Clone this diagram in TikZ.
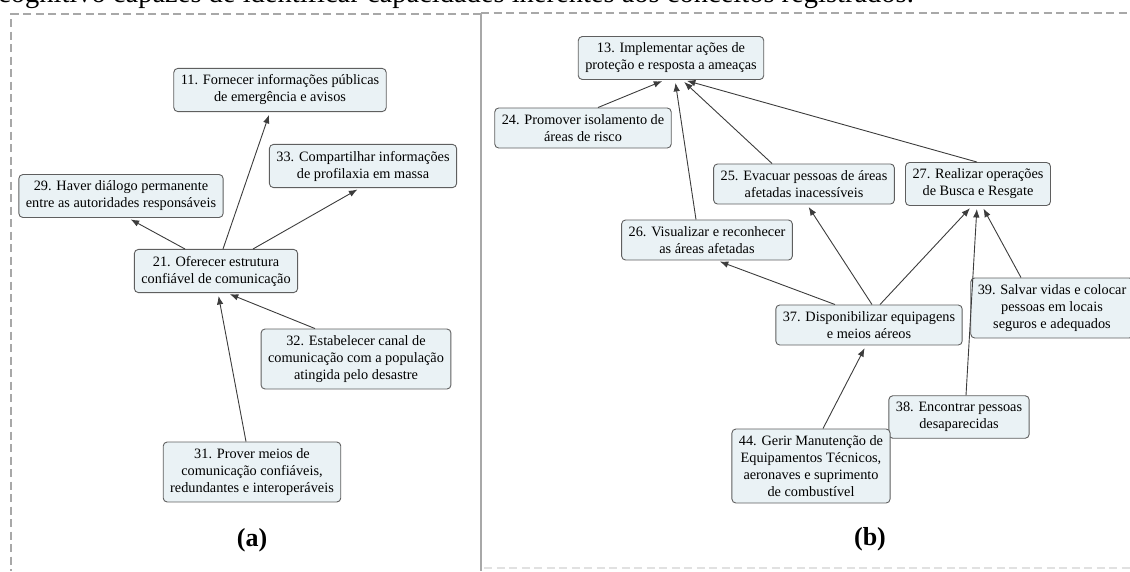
\documentclass[tikz,border=0pt]{standalone}
\usepackage{fontspec}
\setmainfont{Liberation Serif}
\usetikzlibrary{arrows.meta}

\definecolor{boxfill}{RGB}{234,242,245}
\definecolor{boxline}{RGB}{95,95,95}
\definecolor{linkgray}{RGB}{60,60,60}
\definecolor{framegray}{RGB}{168,168,168}

\tikzset{
  cbox/.style={draw=boxline, fill=boxfill, rounded corners=4pt, line width=0.9pt,
    align=center, inner xsep=7pt, inner ysep=6.5pt, font=\fontsize{14.3}{17}\selectfont},
  link/.style={draw=linkgray, line width=0.9pt, -{Latex[length=8.5pt,width=6.5pt]}, shorten >=3pt},
  frameline/.style={framegray, line width=2.4pt},
  panel/.style={font=\bfseries\fontsize{26}{26}\selectfont}
}

\begin{document}
\begin{tikzpicture}[x=1pt,y=-1pt]
\useasboundingbox (0,0) rectangle (1130,571);

% page text above the figure
\node[anchor=base west, inner sep=0, font=\fontsize{28.5}{29}\selectfont] (pagetext) at (-2,2)
  {cognitivo capazes de identificar capacidades inerentes aos conceitos registrados.};

% frame
\draw[frameline, dash pattern=on 8pt off 4.5pt] (481,14) -- (11,14) -- (11,571);
\draw[frameline] (481,13) -- (481,571);
\draw[frameline, dash pattern=on 8pt off 4.5pt] (481,13) -- (1130,13);
\draw[frameline, framegray!35, dash pattern=on 8pt off 4.5pt] (484,568) -- (1130,568);

% (a)
\node[cbox] (n11) at (280,90) {11. Fornecer informações públicas\\de emergência e avisos};
\node[cbox] (n33) at (363,166) {33. Compartilhar informações\\de profilaxia em massa};
\node[cbox] (n29) at (121,196) {29. Haver diálogo permanente\\entre as autoridades responsáveis};
\node[cbox] (n21) at (216,271) {21. Oferecer estrutura\\confiável de comunicação};
\node[cbox] (n32) at (356,359) {32. Estabelecer canal de\\comunicação com a população\\atingida pelo desastre};
\node[cbox] (n31) at (252,472) {31. Prover meios de\\comunicação confiáveis,\\redundantes e interoperáveis};
\node[panel] (pa) at (252,540) {(a)};

\draw[link] ([xshift=-31pt]n21.north) -- ([xshift=7pt]n29.south);
\draw[link] ([xshift=7pt]n21.north) -- ([xshift=-10pt]n11.south);
\draw[link] ([xshift=37pt]n21.north) -- ([xshift=-3pt]n33.south);
\draw[link] ([xshift=-41pt]n32.north) -- ([xshift=11pt]n21.south);
\draw[link] ([xshift=-6pt]n31.north) -- ([xshift=2pt]n21.south);

% (b)
\node[cbox] (n13) at (671,58) {13. Implementar ações de\\proteção e resposta a ameaças};
\node[cbox] (n24) at (583,128) {24. Promover isolamento de\\áreas de risco};
\node[cbox] (n25) at (804,184) {25. Evacuar pessoas de áreas\\afetadas inacessíveis};
\node[cbox] (n27) at (978,184) {27. Realizar operações\\de Busca e Resgate};
\node[cbox] (n26) at (707,240) {26. Visualizar e reconhecer\\as áreas afetadas};
\node[cbox] (n37) at (869,325) {37. Disponibilizar equipagens\\e meios aéreos};
\node[cbox] (n39) at (1052,308) {39. Salvar vidas e colocar\\pessoas em locais\\seguros e adequados};
\node[cbox] (n38) at (959,417) {38. Encontrar pessoas\\desaparecidas};
\node[cbox] (n44) at (811,466) {44. Gerir Manutenção de\\Equipamentos Técnicos,\\aeronaves e suprimento\\de combustível};
\node[panel] (pb) at (870,539) {(b)};

\draw[link] ([xshift=15pt]n24.north) -- ([xshift=-6pt]n13.south);
\draw[link] ([xshift=-11pt]n26.north) -- ([xshift=4pt]n13.south);
\draw[link] ([xshift=-32pt]n25.north) -- ([xshift=11pt]n13.south);
\draw[link] ([xshift=-1pt]n27.north) -- ([xshift=13pt]n13.south);
\draw[link] ([xshift=-34pt]n37.north) -- ([xshift=10pt]n26.south);
\draw[link] ([xshift=3pt]n37.north) -- ([xshift=3pt]n25.south);
\draw[link] ([xshift=11pt]n37.north) -- ([xshift=-6pt]n27.south);
\draw[link] ([xshift=7pt]n38.north) -- ([xshift=-1pt]n27.south);
\draw[link] ([xshift=-31pt]n39.north) -- ([xshift=4pt]n27.south);
\draw[link] ([xshift=12pt]n44.north) -- ([xshift=-3pt]n37.south);
\end{tikzpicture}
\end{document}
